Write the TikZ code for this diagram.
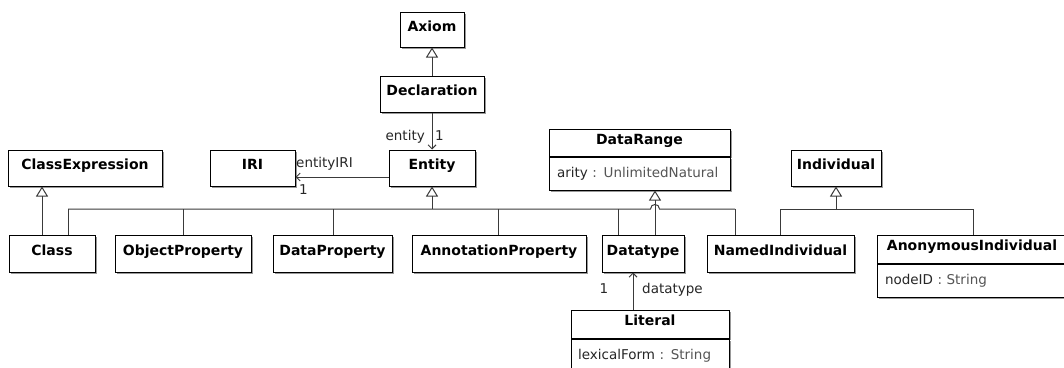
\documentclass[tikz,border=0pt]{standalone}
\usepackage{fontspec}
\setmainfont{DejaVu Sans}
\usetikzlibrary{arrows.meta,shadows}

\definecolor{linegray}{HTML}{3A3A3A}
\definecolor{attrname}{HTML}{262626}
\definecolor{attrtype}{HTML}{555555}

\tikzset{
  boxshadow/.style={drop shadow={shadow xshift=2pt, shadow yshift=-2pt, fill=black!40, opacity=1}},
  cls/.style={draw=black, line width=1pt, fill=white, inner sep=0pt,
    font=\fontsize{14pt}{16pt}\selectfont\bfseries,
    text height=11pt, text depth=8pt, boxshadow},
  attr/.style={draw=black, line width=1pt, fill=white, inner ysep=0pt,
    font=\fontsize{13.5pt}{15pt}\selectfont, align=left,
    text height=10pt, text depth=3pt, anchor=north, boxshadow},
  lbl/.style={inner sep=0pt, font=\fontsize{13.5pt}{15pt}\selectfont,
    text=black!85, text height=10pt, text depth=3pt},
  conn/.style={draw=linegray, line width=1pt},
  gen/.style={conn, -{Triangle[open, length=10pt, width=12pt]}},
  assoc/.style={conn, -{Straight Barb[length=4pt, width=8pt]}},
}

\begin{document}
\begin{tikzpicture}[x=1pt, y=-1pt]
  \useasboundingbox (0,0) rectangle (1064,367);
  \clip (0,0) rectangle (1064,367);

  % top of the hierarchy
  \node[cls, minimum width=64pt,  minimum height=35pt] (axiom)       at (432,29.5) {Axiom};
  \node[cls, minimum width=104pt, minimum height=36pt] (declaration) at (432,94)   {Declaration};

  % second row
  \node[cls, minimum width=154pt, minimum height=36pt] (classexpr)  at (85,168)    {ClassExpression};
  \node[cls, minimum width=85pt,  minimum height=36pt] (iri)        at (252.5,168) {IRI};
  \node[cls, minimum width=86pt,  minimum height=36pt] (entity)     at (432,168)   {Entity};
  \node[cls, minimum width=181pt, minimum height=27pt] (datarange)  at (639.5,142.5) {DataRange};
  \node[attr, text width=165pt, inner xsep=8pt, minimum height=33pt] (datarangeattr) at (datarange.south)
    {\textcolor{attrname}{arity} \textcolor{attrtype}{: UnlimitedNatural}};
  \node[cls, minimum width=90pt,  minimum height=36pt] (individual) at (836,168)   {Individual};

  % bottom row
  \node[cls, minimum width=86pt,  minimum height=37pt] (class)      at (52,253.5)    {Class};
  \node[cls, minimum width=136pt, minimum height=37pt] (objprop)    at (183,253.5)   {ObjectProperty};
  \node[cls, minimum width=119pt, minimum height=37pt] (dataprop)   at (332.5,253.5) {DataProperty};
  \node[cls, minimum width=174pt, minimum height=37pt] (annprop)    at (499,253.5)   {AnnotationProperty};
  \node[cls, minimum width=82pt,  minimum height=37pt] (datatype)   at (643,253.5)   {Datatype};
  \node[cls, minimum width=147pt, minimum height=37pt] (namedind)   at (780.5,253.5) {NamedIndividual};
  \node[cls, minimum width=190pt, minimum height=28pt] (anonind)    at (972,249)     {AnonymousIndividual};
  \node[attr, text width=174pt, inner xsep=8pt, minimum height=33pt] (anonindattr) at (anonind.south)
    {\textcolor{attrname}{nodeID} \textcolor{attrtype}{: String}};

  % literal
  \node[cls, minimum width=158pt, minimum height=28pt] (literal) at (650,324) {Literal};
  \node[attr, text width=144pt, inner xsep=7pt, minimum height=34pt] (literalattr) at (literal.south)
    {\textcolor{attrname}{lexicalForm} \textcolor{attrtype}{: String}};

  % generalizations
  \draw[gen] (declaration) -- (axiom);
  \coordinate (cex) at (42,0);
  \draw[gen] (class.north -| cex) -- (classexpr.south -| cex);

  % Entity subclasses share one bus line, hopping over the Datatype link
  \coordinate (ebus)  at (432,209);
  \coordinate (eleft) at (68,209);
  \coordinate (eright) at (735,209);
  \coordinate (hopl)  at (650.5,209);
  \coordinate (hopr)  at (659.5,209);
  \coordinate (ob)    at (183,209);
  \coordinate (db)    at (333,209);
  \coordinate (ab)    at (498,209);
  \coordinate (tb)    at (618,209);
  \draw[gen] (ebus) -- (entity.south);
  \draw[conn] (eleft) -- (hopl) .. controls (650.5,203) and (659.5,203) .. (hopr) -- (eright);
  \draw[conn] (eleft) -- (eleft |- class.north);
  \draw[conn] (ob) -- (ob |- objprop.north);
  \draw[conn] (db) -- (db |- dataprop.north);
  \draw[conn] (ab) -- (ab |- annprop.north);
  \draw[conn] (tb) -- (tb |- datatype.north);
  \draw[conn] (eright) -- (eright |- namedind.north);

  % Datatype specializes DataRange
  \coordinate (drx) at (655,0);
  \draw[gen] (datatype.north -| drx) -- (datarangeattr.south -| drx);

  % Individual subclasses
  \coordinate (ibus)  at (836,209);
  \coordinate (ileft) at (780,209);
  \coordinate (iright) at (973,209);
  \draw[gen] (ibus) -- (individual.south);
  \draw[conn] (ileft) -- (iright);
  \draw[conn] (ileft) -- (ileft |- namedind.north);
  \draw[conn] (iright) -- (iright |- anonind.north);

  % associations
  \draw[assoc] (declaration) -- (entity);
  \node[lbl, anchor=east] (entityrole) at (425,137) {entity};
  \node[lbl, anchor=west] (entitymult) at (435,137) {1};

  \coordinate (iriy) at (0,177);
  \draw[assoc] (entity.west |- iriy) -- (iri.east |- iriy);
  \node[lbl, anchor=west] (irirole) at (296,164) {entityIRI};
  \node[lbl, anchor=west] (irimult) at (299,191) {1};

  \coordinate (litx) at (633,0);
  \draw[assoc] (literal.north -| litx) -- (datatype.south -| litx);
  \node[lbl] (dtmult) at (604,290) {1};
  \node[lbl, anchor=west] (dtrole) at (642,290) {datatype};
\end{tikzpicture}
\end{document}
